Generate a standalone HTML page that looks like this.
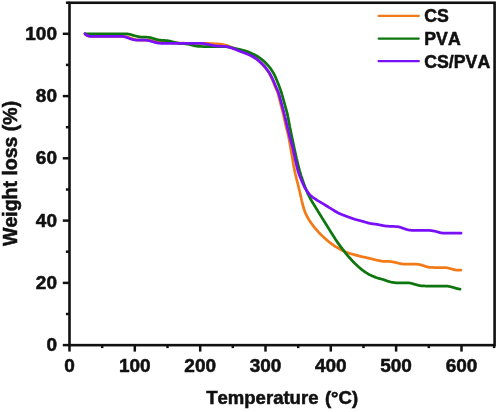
<!DOCTYPE html>
<html><head><meta charset="utf-8"><title>TGA</title>
<style>
html,body{margin:0;padding:0;background:#fff;}
svg{display:block;}
text{font-family:"Liberation Sans",sans-serif;font-weight:bold;fill:#111;stroke:#111;stroke-width:0.55px;font-kerning:none;}
</style></head><body>
<svg width="498" height="412" viewBox="0 0 498 412">
<rect width="498" height="412" fill="#fff"/>
<g fill="none" stroke-width="2.75" stroke-linecap="round" stroke-linejoin="round">
<path stroke="#F27A18" d="M85.00,33.80 L85.35,34.12 L85.71,34.44 L86.07,34.74 L86.45,35.02 L86.84,35.28 L87.25,35.51 L87.67,35.71 L88.11,35.87 L88.56,36.01 L89.02,36.12 L89.50,36.20 L89.98,36.27 L90.46,36.31 L90.96,36.34 L91.45,36.37 L91.95,36.38 L92.44,36.39 L92.94,36.39 L93.44,36.40 L93.94,36.40 L94.44,36.40 L94.94,36.40 L95.44,36.40 L95.94,36.40 L96.44,36.40 L96.94,36.40 L97.44,36.40 L97.94,36.40 L98.44,36.40 L98.94,36.40 L99.44,36.40 L99.94,36.40 L100.44,36.40 L100.94,36.40 L101.44,36.40 L101.94,36.40 L102.44,36.40 L102.94,36.40 L103.44,36.40 L103.94,36.40 L104.44,36.40 L104.94,36.40 L105.44,36.40 L105.94,36.40 L106.44,36.40 L106.94,36.40 L107.44,36.40 L107.94,36.40 L108.44,36.40 L108.94,36.40 L109.44,36.40 L109.94,36.40 L110.44,36.40 L110.94,36.40 L111.44,36.40 L111.94,36.40 L112.44,36.40 L112.94,36.40 L113.44,36.40 L113.94,36.40 L114.44,36.40 L114.94,36.40 L115.44,36.40 L115.94,36.40 L116.44,36.40 L116.94,36.40 L117.44,36.40 L117.94,36.40 L118.44,36.40 L118.94,36.40 L119.44,36.40 L119.94,36.40 L120.44,36.40 L120.94,36.40 L121.44,36.41 L121.94,36.41 L122.44,36.42 L122.94,36.43 L123.43,36.45 L123.93,36.48 L124.42,36.52 L124.91,36.57 L125.40,36.63 L125.88,36.71 L126.36,36.81 L126.84,36.93 L127.32,37.06 L127.79,37.20 L128.26,37.35 L128.73,37.51 L129.20,37.68 L129.67,37.84 L130.14,38.01 L130.61,38.17 L131.08,38.33 L131.56,38.49 L132.03,38.64 L132.51,38.79 L132.99,38.93 L133.47,39.07 L133.95,39.21 L134.43,39.33 L134.91,39.45 L135.40,39.57 L135.88,39.67 L136.37,39.76 L136.86,39.84 L137.35,39.91 L137.84,39.97 L138.33,40.01 L138.83,40.05 L139.33,40.07 L139.82,40.09 L140.32,40.11 L140.82,40.12 L141.32,40.13 L141.82,40.13 L142.32,40.14 L142.82,40.14 L143.32,40.15 L143.82,40.15 L144.32,40.16 L144.82,40.16 L145.32,40.17 L145.82,40.17 L146.32,40.18 L146.82,40.19 L147.32,40.21 L147.82,40.22 L148.31,40.25 L148.81,40.28 L149.31,40.32 L149.80,40.37 L150.29,40.43 L150.79,40.50 L151.28,40.58 L151.77,40.67 L152.26,40.76 L152.75,40.86 L153.23,40.96 L153.72,41.06 L154.21,41.16 L154.70,41.26 L155.19,41.36 L155.68,41.45 L156.17,41.54 L156.66,41.63 L157.16,41.71 L157.65,41.79 L158.14,41.86 L158.64,41.93 L159.13,42.00 L159.63,42.06 L160.13,42.13 L160.62,42.18 L161.12,42.23 L161.62,42.28 L162.11,42.33 L162.61,42.37 L163.11,42.40 L163.61,42.43 L164.11,42.46 L164.61,42.49 L165.10,42.51 L165.60,42.53 L166.10,42.56 L166.60,42.58 L167.10,42.60 L167.60,42.62 L168.10,42.63 L168.60,42.65 L169.10,42.67 L169.60,42.69 L170.10,42.71 L170.60,42.73 L171.10,42.75 L171.60,42.77 L172.10,42.79 L172.60,42.81 L173.10,42.83 L173.60,42.85 L174.10,42.87 L174.60,42.89 L175.10,42.91 L175.60,42.92 L176.10,42.94 L176.60,42.96 L177.09,42.98 L177.59,43.00 L178.09,43.02 L178.59,43.04 L179.09,43.06 L179.59,43.08 L180.09,43.10 L180.59,43.12 L181.09,43.14 L181.59,43.16 L182.09,43.18 L182.59,43.20 L183.09,43.21 L183.59,43.23 L184.09,43.24 L184.59,43.26 L185.09,43.27 L185.59,43.28 L186.09,43.28 L186.59,43.29 L187.09,43.29 L187.59,43.29 L188.09,43.30 L188.59,43.30 L189.09,43.30 L189.59,43.30 L190.09,43.30 L190.59,43.30 L191.09,43.30 L191.59,43.30 L192.09,43.30 L192.59,43.30 L193.09,43.30 L193.59,43.30 L194.09,43.30 L194.59,43.30 L195.09,43.30 L195.59,43.30 L196.09,43.30 L196.59,43.30 L197.09,43.30 L197.59,43.30 L198.09,43.30 L198.59,43.30 L199.09,43.30 L199.59,43.30 L200.09,43.30 L200.59,43.30 L201.09,43.30 L201.59,43.30 L202.09,43.30 L202.59,43.31 L203.09,43.31 L203.59,43.32 L204.09,43.32 L204.59,43.33 L205.09,43.35 L205.59,43.36 L206.09,43.38 L206.59,43.39 L207.09,43.41 L207.59,43.44 L208.08,43.46 L208.58,43.48 L209.08,43.51 L209.58,43.53 L210.08,43.55 L210.58,43.58 L211.08,43.60 L211.58,43.63 L212.08,43.65 L212.58,43.68 L213.08,43.71 L213.58,43.73 L214.08,43.76 L214.58,43.78 L215.08,43.81 L215.57,43.84 L216.07,43.86 L216.57,43.89 L217.07,43.92 L217.57,43.95 L218.07,43.98 L218.57,44.01 L219.07,44.05 L219.56,44.09 L220.06,44.13 L220.56,44.18 L221.05,44.24 L221.55,44.30 L222.04,44.38 L222.53,44.46 L223.02,44.55 L223.50,44.65 L223.99,44.76 L224.47,44.88 L224.96,45.01 L225.44,45.14 L225.91,45.28 L226.39,45.43 L226.86,45.59 L227.34,45.75 L227.81,45.91 L228.28,46.08 L228.75,46.25 L229.22,46.42 L229.69,46.59 L230.16,46.76 L230.63,46.94 L231.10,47.11 L231.56,47.28 L232.03,47.46 L232.50,47.63 L232.97,47.80 L233.44,47.98 L233.91,48.15 L234.37,48.33 L234.84,48.51 L235.31,48.69 L235.77,48.88 L236.23,49.06 L236.70,49.25 L237.16,49.45 L237.62,49.64 L238.08,49.84 L238.54,50.03 L239.00,50.23 L239.46,50.42 L239.92,50.61 L240.38,50.80 L240.85,50.99 L241.31,51.17 L241.78,51.35 L242.24,51.54 L242.71,51.72 L243.17,51.90 L243.64,52.08 L244.11,52.26 L244.57,52.44 L245.03,52.63 L245.50,52.82 L245.96,53.01 L246.42,53.20 L246.88,53.40 L247.34,53.60 L247.80,53.80 L248.25,54.00 L248.71,54.21 L249.16,54.42 L249.61,54.63 L250.06,54.85 L250.50,55.08 L250.95,55.30 L251.39,55.54 L251.82,55.78 L252.25,56.03 L252.68,56.29 L253.10,56.55 L253.52,56.82 L253.94,57.09 L254.35,57.37 L254.76,57.65 L255.17,57.94 L255.58,58.23 L255.98,58.52 L256.39,58.82 L256.78,59.12 L257.18,59.43 L257.56,59.74 L257.95,60.06 L258.33,60.38 L258.70,60.71 L259.07,61.05 L259.43,61.38 L259.80,61.73 L260.15,62.08 L260.51,62.43 L260.87,62.78 L261.22,63.13 L261.57,63.48 L261.92,63.84 L262.27,64.20 L262.62,64.56 L262.96,64.92 L263.29,65.29 L263.63,65.66 L263.95,66.04 L264.28,66.42 L264.59,66.80 L264.91,67.19 L265.21,67.58 L265.52,67.98 L265.82,68.38 L266.12,68.78 L266.42,69.18 L266.71,69.58 L267.00,69.99 L267.29,70.40 L267.58,70.80 L267.86,71.22 L268.14,71.63 L268.41,72.05 L268.68,72.47 L268.93,72.89 L269.19,73.32 L269.43,73.76 L269.67,74.20 L269.90,74.64 L270.13,75.08 L270.36,75.53 L270.58,75.97 L270.80,76.42 L271.02,76.87 L271.24,77.32 L271.45,77.77 L271.67,78.22 L271.88,78.67 L272.09,79.13 L272.29,79.58 L272.50,80.04 L272.70,80.50 L272.89,80.96 L273.09,81.42 L273.28,81.88 L273.46,82.34 L273.65,82.81 L273.84,83.27 L274.02,83.74 L274.20,84.20 L274.39,84.67 L274.57,85.13 L274.75,85.60 L274.94,86.06 L275.13,86.52 L275.32,86.99 L275.51,87.45 L275.71,87.91 L275.91,88.36 L276.11,88.82 L276.31,89.27 L276.52,89.73 L276.72,90.18 L276.92,90.64 L277.11,91.10 L277.30,91.56 L277.48,92.02 L277.65,92.48 L277.82,92.95 L277.97,93.43 L278.11,93.90 L278.25,94.38 L278.39,94.86 L278.51,95.34 L278.64,95.83 L278.76,96.31 L278.88,96.80 L279.01,97.28 L279.13,97.77 L279.25,98.25 L279.37,98.74 L279.49,99.22 L279.61,99.71 L279.73,100.19 L279.85,100.68 L279.97,101.16 L280.10,101.65 L280.22,102.13 L280.34,102.62 L280.47,103.10 L280.59,103.58 L280.72,104.07 L280.85,104.55 L280.97,105.04 L281.10,105.52 L281.22,106.00 L281.35,106.49 L281.48,106.97 L281.60,107.45 L281.73,107.94 L281.86,108.42 L281.98,108.91 L282.11,109.39 L282.24,109.87 L282.36,110.36 L282.49,110.84 L282.62,111.32 L282.74,111.81 L282.86,112.29 L282.99,112.78 L283.11,113.26 L283.23,113.75 L283.34,114.23 L283.46,114.72 L283.57,115.21 L283.68,115.69 L283.79,116.18 L283.90,116.67 L284.01,117.16 L284.12,117.65 L284.22,118.14 L284.33,118.62 L284.43,119.11 L284.54,119.60 L284.64,120.09 L284.75,120.58 L284.85,121.07 L284.96,121.56 L285.07,122.05 L285.17,122.53 L285.28,123.02 L285.38,123.51 L285.49,124.00 L285.60,124.49 L285.71,124.97 L285.82,125.46 L285.94,125.95 L286.05,126.43 L286.17,126.92 L286.29,127.41 L286.41,127.89 L286.54,128.37 L286.66,128.86 L286.79,129.34 L286.92,129.83 L287.05,130.31 L287.17,130.79 L287.30,131.28 L287.43,131.76 L287.55,132.24 L287.68,132.73 L287.80,133.21 L287.92,133.70 L288.04,134.18 L288.15,134.67 L288.26,135.16 L288.37,135.64 L288.47,136.13 L288.57,136.62 L288.67,137.11 L288.76,137.60 L288.86,138.09 L288.95,138.59 L289.04,139.08 L289.13,139.57 L289.22,140.06 L289.31,140.55 L289.40,141.05 L289.49,141.54 L289.58,142.03 L289.67,142.52 L289.76,143.01 L289.85,143.50 L289.94,144.00 L290.02,144.49 L290.11,144.98 L290.20,145.47 L290.29,145.97 L290.38,146.46 L290.46,146.95 L290.55,147.44 L290.64,147.93 L290.72,148.43 L290.81,148.92 L290.90,149.41 L290.98,149.90 L291.07,150.40 L291.15,150.89 L291.24,151.38 L291.32,151.88 L291.41,152.37 L291.49,152.86 L291.58,153.35 L291.66,153.85 L291.75,154.34 L291.83,154.83 L291.92,155.32 L292.00,155.82 L292.09,156.31 L292.17,156.80 L292.26,157.30 L292.34,157.79 L292.43,158.28 L292.51,158.77 L292.60,159.27 L292.68,159.76 L292.77,160.25 L292.85,160.74 L292.94,161.24 L293.02,161.73 L293.11,162.22 L293.19,162.72 L293.28,163.21 L293.36,163.70 L293.45,164.19 L293.53,164.69 L293.62,165.18 L293.71,165.67 L293.79,166.16 L293.88,166.66 L293.96,167.15 L294.05,167.64 L294.14,168.13 L294.23,168.63 L294.32,169.12 L294.41,169.61 L294.50,170.10 L294.60,170.59 L294.70,171.08 L294.80,171.57 L294.91,172.06 L295.02,172.54 L295.13,173.03 L295.24,173.52 L295.36,174.00 L295.48,174.49 L295.60,174.97 L295.72,175.46 L295.84,175.95 L295.96,176.43 L296.08,176.92 L296.20,177.40 L296.32,177.89 L296.44,178.37 L296.56,178.86 L296.69,179.34 L296.81,179.83 L296.93,180.31 L297.05,180.80 L297.17,181.28 L297.29,181.77 L297.42,182.25 L297.54,182.74 L297.66,183.22 L297.78,183.70 L297.91,184.19 L298.03,184.67 L298.15,185.16 L298.28,185.64 L298.40,186.13 L298.53,186.61 L298.65,187.10 L298.77,187.58 L298.89,188.07 L299.02,188.55 L299.14,189.04 L299.26,189.52 L299.37,190.01 L299.49,190.49 L299.60,190.98 L299.72,191.47 L299.83,191.95 L299.94,192.44 L300.04,192.93 L300.15,193.42 L300.26,193.91 L300.36,194.40 L300.46,194.89 L300.57,195.37 L300.67,195.86 L300.78,196.35 L300.88,196.84 L300.99,197.33 L301.10,197.82 L301.21,198.31 L301.31,198.79 L301.43,199.28 L301.54,199.77 L301.65,200.26 L301.77,200.74 L301.88,201.23 L302.00,201.71 L302.12,202.20 L302.24,202.69 L302.36,203.17 L302.48,203.66 L302.60,204.14 L302.73,204.62 L302.86,205.11 L302.99,205.59 L303.12,206.07 L303.26,206.55 L303.40,207.03 L303.54,207.51 L303.69,207.99 L303.84,208.46 L303.99,208.94 L304.15,209.41 L304.31,209.89 L304.47,210.36 L304.63,210.83 L304.79,211.30 L304.96,211.77 L305.14,212.24 L305.32,212.70 L305.51,213.17 L305.70,213.62 L305.91,214.08 L306.12,214.53 L306.34,214.98 L306.56,215.42 L306.79,215.86 L307.03,216.30 L307.27,216.74 L307.51,217.18 L307.75,217.61 L308.00,218.05 L308.24,218.48 L308.49,218.92 L308.75,219.35 L309.00,219.78 L309.26,220.20 L309.53,220.63 L309.80,221.05 L310.07,221.46 L310.35,221.88 L310.63,222.29 L310.92,222.70 L311.21,223.10 L311.50,223.51 L311.80,223.91 L312.09,224.31 L312.39,224.72 L312.69,225.12 L312.99,225.51 L313.29,225.91 L313.60,226.31 L313.91,226.70 L314.22,227.09 L314.53,227.48 L314.84,227.87 L315.16,228.25 L315.49,228.64 L315.81,229.02 L316.14,229.39 L316.47,229.77 L316.80,230.14 L317.13,230.52 L317.46,230.89 L317.80,231.26 L318.13,231.64 L318.47,232.01 L318.80,232.38 L319.14,232.74 L319.48,233.11 L319.82,233.47 L320.17,233.83 L320.52,234.19 L320.87,234.55 L321.22,234.90 L321.58,235.25 L321.94,235.59 L322.30,235.94 L322.67,236.28 L323.03,236.62 L323.40,236.96 L323.76,237.30 L324.13,237.64 L324.50,237.98 L324.87,238.31 L325.24,238.65 L325.61,238.99 L325.98,239.32 L326.35,239.65 L326.73,239.99 L327.10,240.31 L327.48,240.64 L327.87,240.96 L328.25,241.28 L328.64,241.59 L329.03,241.91 L329.42,242.22 L329.81,242.52 L330.21,242.83 L330.61,243.13 L331.01,243.43 L331.40,243.73 L331.80,244.03 L332.20,244.33 L332.61,244.63 L333.01,244.92 L333.42,245.21 L333.83,245.50 L334.24,245.78 L334.65,246.05 L335.07,246.32 L335.50,246.58 L335.93,246.83 L336.36,247.07 L336.80,247.31 L337.24,247.55 L337.68,247.78 L338.12,248.02 L338.56,248.25 L339.00,248.48 L339.44,248.72 L339.87,248.96 L340.31,249.21 L340.74,249.45 L341.17,249.70 L341.61,249.95 L342.04,250.19 L342.48,250.43 L342.92,250.67 L343.36,250.90 L343.80,251.13 L344.25,251.35 L344.70,251.56 L345.15,251.77 L345.61,251.97 L346.07,252.17 L346.53,252.35 L346.99,252.53 L347.46,252.71 L347.93,252.87 L348.40,253.03 L348.88,253.18 L349.35,253.33 L349.83,253.47 L350.31,253.61 L350.79,253.75 L351.27,253.88 L351.76,254.02 L352.24,254.15 L352.72,254.28 L353.20,254.41 L353.68,254.54 L354.17,254.67 L354.65,254.80 L355.13,254.93 L355.62,255.06 L356.10,255.19 L356.58,255.32 L357.07,255.45 L357.55,255.58 L358.03,255.70 L358.52,255.83 L359.00,255.96 L359.48,256.08 L359.97,256.20 L360.45,256.32 L360.94,256.44 L361.42,256.56 L361.91,256.68 L362.40,256.79 L362.89,256.90 L363.37,257.01 L363.86,257.11 L364.35,257.22 L364.84,257.32 L365.33,257.42 L365.82,257.53 L366.31,257.63 L366.80,257.73 L367.29,257.84 L367.77,257.95 L368.26,258.06 L368.75,258.17 L369.24,258.28 L369.72,258.39 L370.21,258.51 L370.69,258.63 L371.18,258.75 L371.66,258.87 L372.15,259.00 L372.63,259.12 L373.12,259.24 L373.60,259.37 L374.09,259.49 L374.57,259.61 L375.06,259.73 L375.54,259.85 L376.03,259.97 L376.51,260.08 L377.00,260.19 L377.49,260.30 L377.98,260.41 L378.47,260.51 L378.96,260.62 L379.44,260.72 L379.93,260.81 L380.42,260.91 L380.91,261.00 L381.41,261.09 L381.90,261.17 L382.39,261.24 L382.88,261.30 L383.38,261.35 L383.87,261.39 L384.36,261.42 L384.86,261.44 L385.36,261.45 L385.85,261.45 L386.35,261.45 L386.85,261.45 L387.35,261.44 L387.85,261.44 L388.34,261.45 L388.84,261.46 L389.34,261.49 L389.83,261.52 L390.33,261.56 L390.82,261.62 L391.31,261.68 L391.81,261.75 L392.30,261.82 L392.79,261.91 L393.28,262.00 L393.77,262.09 L394.26,262.19 L394.75,262.30 L395.24,262.41 L395.72,262.52 L396.21,262.64 L396.69,262.76 L397.17,262.89 L397.66,263.02 L398.14,263.15 L398.62,263.27 L399.10,263.39 L399.59,263.51 L400.07,263.61 L400.56,263.71 L401.05,263.80 L401.54,263.87 L402.03,263.93 L402.52,263.98 L403.02,264.02 L403.51,264.04 L404.01,264.06 L404.51,264.08 L405.01,264.09 L405.50,264.09 L406.00,264.10 L406.50,264.10 L407.00,264.10 L407.50,264.10 L408.00,264.10 L408.50,264.10 L409.00,264.10 L409.50,264.10 L410.00,264.10 L410.50,264.10 L411.00,264.10 L411.50,264.10 L412.00,264.10 L412.50,264.10 L413.00,264.10 L413.50,264.11 L414.00,264.11 L414.50,264.12 L415.00,264.13 L415.50,264.15 L416.00,264.17 L416.49,264.20 L416.99,264.25 L417.48,264.30 L417.97,264.36 L418.47,264.43 L418.96,264.51 L419.44,264.61 L419.93,264.71 L420.42,264.82 L420.90,264.93 L421.39,265.06 L421.87,265.19 L422.35,265.32 L422.82,265.47 L423.30,265.62 L423.78,265.77 L424.25,265.92 L424.72,266.08 L425.20,266.24 L425.67,266.39 L426.14,266.54 L426.62,266.69 L427.10,266.83 L427.57,266.95 L428.05,267.07 L428.54,267.16 L429.02,267.25 L429.51,267.32 L430.00,267.37 L430.49,267.41 L430.99,267.44 L431.48,267.46 L431.98,267.48 L432.48,267.49 L432.98,267.49 L433.48,267.50 L433.98,267.50 L434.48,267.50 L434.98,267.50 L435.48,267.50 L435.98,267.50 L436.48,267.50 L436.98,267.50 L437.48,267.50 L437.98,267.50 L438.48,267.50 L438.98,267.50 L439.48,267.50 L439.98,267.50 L440.48,267.50 L440.98,267.50 L441.48,267.50 L441.98,267.50 L442.48,267.51 L442.98,267.51 L443.48,267.52 L443.97,267.54 L444.47,267.56 L444.97,267.59 L445.46,267.63 L445.95,267.68 L446.44,267.74 L446.93,267.82 L447.42,267.90 L447.91,268.00 L448.39,268.11 L448.88,268.23 L449.36,268.35 L449.84,268.48 L450.32,268.61 L450.80,268.75 L451.28,268.88 L451.76,269.02 L452.24,269.16 L452.72,269.29 L453.21,269.42 L453.69,269.55 L454.17,269.67 L454.65,269.78 L455.14,269.88 L455.62,269.96 L456.11,270.03 L456.59,270.09 L457.08,270.13 L457.57,270.15 L458.06,270.16 L458.55,270.15 L459.03,270.14 L459.52,270.11 L460.00,270.09 L460.48,270.05 L460.96,270.02"/>
<path stroke="#0E760E" d="M85.00,33.80 L85.50,33.80 L86.00,33.80 L86.50,33.80 L87.00,33.80 L87.50,33.80 L88.00,33.80 L88.50,33.80 L89.00,33.80 L89.50,33.80 L90.00,33.80 L90.50,33.80 L91.00,33.80 L91.50,33.80 L92.00,33.80 L92.50,33.80 L93.00,33.80 L93.50,33.80 L94.00,33.80 L94.50,33.80 L95.00,33.80 L95.50,33.80 L96.00,33.80 L96.50,33.80 L97.00,33.80 L97.50,33.80 L98.00,33.80 L98.50,33.80 L99.00,33.80 L99.50,33.80 L100.00,33.80 L100.50,33.80 L101.00,33.80 L101.50,33.80 L102.00,33.80 L102.50,33.80 L103.00,33.80 L103.50,33.80 L104.00,33.80 L104.50,33.80 L105.00,33.80 L105.50,33.80 L106.00,33.80 L106.50,33.80 L107.00,33.80 L107.50,33.80 L108.00,33.80 L108.50,33.80 L109.00,33.80 L109.50,33.80 L110.00,33.80 L110.50,33.80 L111.00,33.80 L111.50,33.80 L112.00,33.80 L112.50,33.80 L113.00,33.80 L113.50,33.80 L114.00,33.80 L114.50,33.80 L115.00,33.80 L115.50,33.80 L116.00,33.80 L116.50,33.80 L117.00,33.80 L117.50,33.80 L118.00,33.80 L118.50,33.80 L119.00,33.80 L119.50,33.80 L120.00,33.80 L120.50,33.80 L121.00,33.80 L121.50,33.80 L122.00,33.80 L122.50,33.80 L123.00,33.80 L123.50,33.80 L124.00,33.81 L124.50,33.81 L125.00,33.82 L125.49,33.83 L125.99,33.85 L126.49,33.88 L126.98,33.92 L127.47,33.97 L127.96,34.03 L128.45,34.11 L128.94,34.20 L129.42,34.30 L129.91,34.41 L130.39,34.53 L130.87,34.66 L131.35,34.79 L131.83,34.93 L132.31,35.07 L132.79,35.21 L133.27,35.35 L133.75,35.49 L134.23,35.62 L134.71,35.75 L135.19,35.89 L135.68,36.02 L136.16,36.14 L136.64,36.27 L137.13,36.38 L137.61,36.50 L138.10,36.61 L138.59,36.71 L139.07,36.80 L139.56,36.89 L140.05,36.96 L140.55,37.02 L141.04,37.07 L141.54,37.11 L142.03,37.14 L142.53,37.16 L143.03,37.17 L143.53,37.19 L144.02,37.19 L144.52,37.20 L145.02,37.20 L145.52,37.21 L146.02,37.22 L146.52,37.23 L147.02,37.25 L147.51,37.28 L148.01,37.32 L148.50,37.37 L148.99,37.43 L149.48,37.50 L149.96,37.59 L150.45,37.69 L150.93,37.81 L151.41,37.93 L151.89,38.06 L152.37,38.20 L152.85,38.34 L153.33,38.48 L153.80,38.63 L154.28,38.77 L154.76,38.92 L155.24,39.06 L155.72,39.20 L156.20,39.34 L156.68,39.48 L157.16,39.61 L157.64,39.73 L158.12,39.84 L158.61,39.94 L159.10,40.04 L159.59,40.12 L160.08,40.19 L160.57,40.24 L161.06,40.29 L161.56,40.33 L162.06,40.37 L162.55,40.40 L163.05,40.42 L163.55,40.44 L164.05,40.47 L164.55,40.49 L165.05,40.52 L165.55,40.55 L166.04,40.58 L166.54,40.62 L167.03,40.67 L167.53,40.73 L168.02,40.80 L168.51,40.88 L169.00,40.97 L169.49,41.07 L169.97,41.17 L170.46,41.29 L170.94,41.40 L171.43,41.52 L171.91,41.65 L172.40,41.77 L172.88,41.90 L173.36,42.02 L173.85,42.14 L174.33,42.27 L174.82,42.39 L175.30,42.51 L175.79,42.62 L176.28,42.73 L176.76,42.84 L177.25,42.94 L177.74,43.03 L178.23,43.12 L178.72,43.20 L179.22,43.26 L179.71,43.33 L180.21,43.38 L180.70,43.43 L181.20,43.48 L181.70,43.52 L182.20,43.56 L182.69,43.60 L183.19,43.64 L183.69,43.68 L184.19,43.71 L184.69,43.75 L185.18,43.80 L185.68,43.84 L186.18,43.89 L186.67,43.95 L187.17,44.01 L187.66,44.09 L188.15,44.17 L188.64,44.26 L189.12,44.36 L189.61,44.47 L190.09,44.58 L190.58,44.70 L191.06,44.83 L191.54,44.95 L192.03,45.08 L192.51,45.21 L192.99,45.33 L193.48,45.45 L193.96,45.57 L194.45,45.68 L194.94,45.79 L195.42,45.89 L195.91,45.98 L196.40,46.07 L196.90,46.15 L197.39,46.23 L197.88,46.29 L198.37,46.34 L198.87,46.38 L199.37,46.42 L199.86,46.44 L200.36,46.46 L200.86,46.48 L201.36,46.49 L201.86,46.49 L202.36,46.50 L202.86,46.50 L203.36,46.50 L203.86,46.50 L204.36,46.50 L204.86,46.50 L205.36,46.50 L205.86,46.50 L206.36,46.50 L206.86,46.50 L207.36,46.50 L207.86,46.50 L208.36,46.50 L208.86,46.50 L209.36,46.50 L209.86,46.50 L210.36,46.50 L210.86,46.50 L211.36,46.50 L211.86,46.50 L212.36,46.50 L212.86,46.50 L213.36,46.50 L213.86,46.50 L214.36,46.50 L214.86,46.50 L215.36,46.50 L215.86,46.50 L216.36,46.50 L216.86,46.50 L217.36,46.50 L217.86,46.50 L218.36,46.50 L218.86,46.50 L219.36,46.50 L219.86,46.50 L220.36,46.50 L220.86,46.50 L221.36,46.50 L221.86,46.51 L222.36,46.51 L222.86,46.52 L223.36,46.53 L223.85,46.54 L224.35,46.56 L224.85,46.59 L225.34,46.63 L225.84,46.67 L226.33,46.73 L226.83,46.79 L227.32,46.86 L227.81,46.95 L228.30,47.03 L228.79,47.13 L229.28,47.22 L229.77,47.32 L230.26,47.43 L230.75,47.53 L231.24,47.63 L231.73,47.74 L232.21,47.84 L232.70,47.95 L233.19,48.05 L233.68,48.16 L234.17,48.26 L234.66,48.36 L235.15,48.47 L235.64,48.57 L236.13,48.68 L236.62,48.78 L237.10,48.89 L237.59,48.99 L238.08,49.10 L238.57,49.21 L239.06,49.32 L239.55,49.43 L240.03,49.54 L240.52,49.65 L241.01,49.76 L241.49,49.88 L241.98,50.00 L242.46,50.12 L242.95,50.24 L243.43,50.36 L243.91,50.49 L244.40,50.62 L244.88,50.76 L245.35,50.90 L245.83,51.05 L246.30,51.21 L246.77,51.37 L247.24,51.54 L247.71,51.72 L248.18,51.90 L248.64,52.08 L249.10,52.27 L249.56,52.46 L250.02,52.66 L250.48,52.85 L250.94,53.05 L251.39,53.26 L251.85,53.47 L252.30,53.68 L252.75,53.90 L253.20,54.12 L253.65,54.34 L254.09,54.56 L254.54,54.79 L254.98,55.03 L255.42,55.26 L255.86,55.50 L256.30,55.74 L256.73,55.98 L257.16,56.24 L257.59,56.49 L258.01,56.76 L258.43,57.02 L258.85,57.30 L259.26,57.58 L259.66,57.87 L260.07,58.16 L260.47,58.46 L260.87,58.76 L261.27,59.06 L261.66,59.36 L262.06,59.67 L262.45,59.98 L262.83,60.30 L263.21,60.62 L263.59,60.94 L263.96,61.28 L264.33,61.61 L264.69,61.95 L265.05,62.30 L265.41,62.65 L265.76,63.01 L266.10,63.37 L266.45,63.73 L266.79,64.09 L267.13,64.46 L267.47,64.82 L267.81,65.19 L268.14,65.56 L268.47,65.94 L268.79,66.32 L269.11,66.70 L269.43,67.09 L269.73,67.48 L270.04,67.87 L270.33,68.28 L270.62,68.68 L270.90,69.09 L271.18,69.51 L271.46,69.92 L271.73,70.34 L272.00,70.76 L272.27,71.18 L272.54,71.60 L272.80,72.03 L273.06,72.45 L273.32,72.88 L273.57,73.31 L273.82,73.74 L274.06,74.18 L274.29,74.62 L274.52,75.06 L274.74,75.51 L274.95,75.96 L275.16,76.42 L275.36,76.87 L275.56,77.33 L275.76,77.79 L275.96,78.25 L276.15,78.71 L276.34,79.17 L276.54,79.63 L276.73,80.09 L276.92,80.55 L277.11,81.02 L277.30,81.48 L277.49,81.94 L277.67,82.41 L277.86,82.87 L278.05,83.33 L278.23,83.80 L278.41,84.26 L278.59,84.73 L278.77,85.20 L278.95,85.66 L279.13,86.13 L279.31,86.60 L279.49,87.06 L279.67,87.53 L279.84,88.00 L280.02,88.47 L280.19,88.94 L280.36,89.41 L280.53,89.88 L280.69,90.35 L280.85,90.82 L281.01,91.30 L281.16,91.77 L281.31,92.25 L281.46,92.73 L281.60,93.20 L281.74,93.68 L281.88,94.16 L282.01,94.65 L282.15,95.13 L282.29,95.61 L282.42,96.09 L282.56,96.57 L282.69,97.05 L282.82,97.53 L282.96,98.02 L283.09,98.50 L283.23,98.98 L283.36,99.46 L283.50,99.94 L283.63,100.42 L283.77,100.91 L283.90,101.39 L284.03,101.87 L284.17,102.35 L284.30,102.83 L284.44,103.31 L284.57,103.79 L284.71,104.28 L284.84,104.76 L284.97,105.24 L285.11,105.72 L285.24,106.20 L285.38,106.68 L285.51,107.17 L285.65,107.65 L285.78,108.13 L285.91,108.61 L286.05,109.09 L286.18,109.57 L286.32,110.06 L286.45,110.54 L286.58,111.02 L286.71,111.50 L286.84,111.99 L286.97,112.47 L287.09,112.95 L287.21,113.44 L287.33,113.92 L287.44,114.41 L287.55,114.90 L287.66,115.39 L287.76,115.87 L287.86,116.36 L287.95,116.86 L288.05,117.35 L288.14,117.84 L288.23,118.33 L288.32,118.82 L288.41,119.31 L288.50,119.80 L288.59,120.30 L288.68,120.79 L288.77,121.28 L288.86,121.77 L288.95,122.26 L289.04,122.76 L289.13,123.25 L289.22,123.74 L289.31,124.23 L289.40,124.72 L289.50,125.21 L289.59,125.70 L289.68,126.20 L289.78,126.69 L289.88,127.18 L289.98,127.67 L290.07,128.16 L290.17,128.65 L290.28,129.14 L290.38,129.63 L290.48,130.12 L290.58,130.60 L290.68,131.09 L290.79,131.58 L290.89,132.07 L290.99,132.56 L291.09,133.05 L291.19,133.54 L291.30,134.03 L291.40,134.52 L291.50,135.01 L291.60,135.50 L291.71,135.99 L291.81,136.48 L291.91,136.97 L292.01,137.46 L292.11,137.95 L292.22,138.44 L292.32,138.93 L292.42,139.41 L292.52,139.90 L292.62,140.39 L292.73,140.88 L292.83,141.37 L292.93,141.86 L293.03,142.35 L293.13,142.84 L293.24,143.33 L293.34,143.82 L293.44,144.31 L293.54,144.80 L293.65,145.29 L293.75,145.78 L293.85,146.27 L293.96,146.76 L294.06,147.24 L294.17,147.73 L294.27,148.22 L294.38,148.71 L294.48,149.20 L294.59,149.69 L294.70,150.18 L294.80,150.66 L294.91,151.15 L295.02,151.64 L295.13,152.13 L295.23,152.62 L295.34,153.11 L295.45,153.59 L295.56,154.08 L295.66,154.57 L295.77,155.06 L295.88,155.55 L295.99,156.04 L296.09,156.52 L296.20,157.01 L296.31,157.50 L296.42,157.99 L296.53,158.48 L296.65,158.96 L296.76,159.45 L296.87,159.94 L296.99,160.42 L297.11,160.91 L297.22,161.39 L297.34,161.88 L297.46,162.37 L297.58,162.85 L297.70,163.34 L297.82,163.82 L297.94,164.31 L298.06,164.79 L298.18,165.28 L298.30,165.76 L298.42,166.25 L298.54,166.73 L298.66,167.22 L298.79,167.70 L298.91,168.19 L299.03,168.67 L299.16,169.16 L299.28,169.64 L299.41,170.12 L299.54,170.61 L299.68,171.09 L299.82,171.57 L299.96,172.05 L300.10,172.52 L300.25,173.00 L300.40,173.48 L300.55,173.95 L300.71,174.43 L300.86,174.91 L301.02,175.38 L301.17,175.86 L301.33,176.33 L301.49,176.81 L301.64,177.28 L301.80,177.75 L301.96,178.23 L302.11,178.70 L302.27,179.18 L302.43,179.65 L302.59,180.13 L302.75,180.60 L302.91,181.07 L303.07,181.55 L303.23,182.02 L303.40,182.49 L303.57,182.96 L303.74,183.43 L303.91,183.90 L304.09,184.37 L304.27,184.83 L304.45,185.30 L304.63,185.77 L304.81,186.23 L304.99,186.70 L305.18,187.16 L305.36,187.63 L305.55,188.09 L305.73,188.56 L305.92,189.02 L306.10,189.48 L306.29,189.95 L306.48,190.41 L306.66,190.88 L306.85,191.34 L307.04,191.80 L307.24,192.26 L307.43,192.72 L307.63,193.18 L307.83,193.64 L308.04,194.09 L308.25,194.54 L308.47,194.99 L308.69,195.44 L308.91,195.89 L309.14,196.33 L309.37,196.78 L309.60,197.22 L309.83,197.66 L310.07,198.10 L310.30,198.54 L310.54,198.98 L310.79,199.42 L311.03,199.85 L311.28,200.29 L311.53,200.72 L311.78,201.15 L312.04,201.58 L312.29,202.01 L312.55,202.44 L312.81,202.86 L313.07,203.29 L313.34,203.72 L313.60,204.14 L313.86,204.57 L314.12,204.99 L314.39,205.42 L314.65,205.84 L314.91,206.27 L315.17,206.69 L315.44,207.12 L315.70,207.54 L315.96,207.97 L316.23,208.40 L316.49,208.82 L316.75,209.24 L317.02,209.67 L317.28,210.09 L317.55,210.52 L317.81,210.94 L318.07,211.37 L318.34,211.79 L318.60,212.22 L318.86,212.64 L319.13,213.07 L319.39,213.49 L319.65,213.92 L319.92,214.34 L320.18,214.77 L320.44,215.19 L320.71,215.62 L320.97,216.04 L321.24,216.47 L321.50,216.89 L321.76,217.32 L322.03,217.74 L322.29,218.17 L322.56,218.59 L322.82,219.02 L323.08,219.44 L323.35,219.87 L323.61,220.29 L323.87,220.72 L324.14,221.14 L324.40,221.57 L324.66,221.99 L324.93,222.42 L325.19,222.84 L325.45,223.27 L325.72,223.69 L325.98,224.12 L326.24,224.54 L326.51,224.97 L326.77,225.39 L327.03,225.82 L327.30,226.24 L327.56,226.67 L327.82,227.09 L328.08,227.52 L328.35,227.94 L328.61,228.37 L328.87,228.79 L329.14,229.22 L329.40,229.64 L329.66,230.07 L329.93,230.49 L330.19,230.92 L330.46,231.34 L330.72,231.76 L330.99,232.19 L331.25,232.61 L331.52,233.04 L331.78,233.46 L332.05,233.88 L332.32,234.31 L332.58,234.73 L332.85,235.15 L333.12,235.58 L333.38,236.00 L333.65,236.42 L333.91,236.85 L334.18,237.27 L334.45,237.69 L334.72,238.11 L334.98,238.53 L335.25,238.96 L335.53,239.38 L335.80,239.79 L336.07,240.21 L336.35,240.63 L336.63,241.04 L336.91,241.45 L337.20,241.87 L337.48,242.28 L337.77,242.68 L338.06,243.09 L338.35,243.50 L338.64,243.90 L338.94,244.31 L339.23,244.71 L339.53,245.11 L339.83,245.51 L340.13,245.91 L340.43,246.31 L340.73,246.71 L341.03,247.11 L341.34,247.51 L341.64,247.90 L341.95,248.30 L342.25,248.69 L342.56,249.09 L342.86,249.49 L343.17,249.88 L343.47,250.28 L343.78,250.68 L344.08,251.07 L344.38,251.47 L344.69,251.87 L344.99,252.27 L345.30,252.66 L345.60,253.06 L345.91,253.45 L346.22,253.84 L346.53,254.23 L346.84,254.62 L347.16,255.01 L347.48,255.39 L347.80,255.77 L348.13,256.15 L348.46,256.53 L348.79,256.90 L349.12,257.28 L349.45,257.65 L349.79,258.02 L350.12,258.39 L350.46,258.76 L350.80,259.13 L351.13,259.50 L351.47,259.87 L351.81,260.24 L352.15,260.61 L352.49,260.97 L352.83,261.34 L353.17,261.70 L353.51,262.07 L353.86,262.43 L354.21,262.78 L354.56,263.14 L354.91,263.49 L355.27,263.84 L355.63,264.18 L356.00,264.53 L356.36,264.87 L356.73,265.21 L357.10,265.55 L357.47,265.88 L357.84,266.22 L358.21,266.55 L358.58,266.89 L358.95,267.22 L359.32,267.55 L359.70,267.88 L360.08,268.21 L360.46,268.54 L360.84,268.86 L361.22,269.17 L361.61,269.48 L362.01,269.79 L362.40,270.09 L362.81,270.39 L363.21,270.68 L363.62,270.96 L364.03,271.24 L364.45,271.52 L364.86,271.80 L365.28,272.08 L365.69,272.35 L366.11,272.63 L366.53,272.90 L366.96,273.16 L367.38,273.43 L367.80,273.69 L368.23,273.94 L368.67,274.19 L369.10,274.43 L369.54,274.67 L369.98,274.90 L370.43,275.12 L370.88,275.34 L371.33,275.55 L371.78,275.76 L372.24,275.96 L372.69,276.16 L373.15,276.36 L373.61,276.56 L374.07,276.75 L374.53,276.94 L375.00,277.13 L375.46,277.31 L375.93,277.48 L376.40,277.64 L376.87,277.80 L377.35,277.95 L377.83,278.09 L378.31,278.23 L378.79,278.36 L379.27,278.49 L379.75,278.62 L380.23,278.75 L380.72,278.87 L381.20,279.00 L381.68,279.13 L382.16,279.26 L382.64,279.40 L383.12,279.54 L383.60,279.69 L384.07,279.85 L384.55,280.01 L385.02,280.17 L385.49,280.34 L385.96,280.51 L386.42,280.68 L386.89,280.85 L387.36,281.02 L387.83,281.19 L388.30,281.34 L388.78,281.50 L389.25,281.64 L389.73,281.78 L390.21,281.90 L390.70,282.02 L391.18,282.13 L391.67,282.23 L392.16,282.32 L392.65,282.41 L393.14,282.48 L393.64,282.56 L394.13,282.62 L394.62,282.68 L395.12,282.72 L395.62,282.76 L396.11,282.79 L396.61,282.81 L397.11,282.83 L397.61,282.84 L398.11,282.84 L398.61,282.84 L399.11,282.84 L399.61,282.84 L400.11,282.83 L400.61,282.82 L401.11,282.82 L401.61,282.81 L402.11,282.80 L402.61,282.80 L403.11,282.79 L403.61,282.78 L404.10,282.78 L404.60,282.77 L405.10,282.77 L405.60,282.77 L406.10,282.77 L406.60,282.77 L407.10,282.78 L407.59,282.80 L408.09,282.83 L408.58,282.87 L409.07,282.92 L409.56,282.99 L410.05,283.07 L410.53,283.16 L411.02,283.27 L411.50,283.39 L411.98,283.51 L412.46,283.64 L412.94,283.78 L413.42,283.92 L413.90,284.06 L414.38,284.20 L414.86,284.34 L415.34,284.48 L415.82,284.62 L416.30,284.75 L416.78,284.89 L417.26,285.02 L417.75,285.14 L418.23,285.27 L418.71,285.38 L419.20,285.49 L419.68,285.59 L420.17,285.68 L420.66,285.75 L421.15,285.82 L421.65,285.87 L422.14,285.91 L422.64,285.94 L423.13,285.96 L423.63,285.97 L424.13,285.98 L424.63,285.99 L425.13,286.00 L425.63,286.00 L426.13,286.00 L426.63,286.00 L427.13,286.00 L427.63,286.00 L428.13,286.00 L428.63,286.00 L429.13,286.00 L429.63,286.00 L430.13,286.00 L430.63,286.00 L431.13,286.00 L431.63,286.00 L432.13,286.00 L432.63,286.00 L433.13,286.00 L433.63,286.00 L434.13,286.00 L434.63,286.00 L435.13,286.00 L435.63,286.00 L436.13,286.00 L436.63,286.00 L437.13,286.00 L437.63,286.00 L438.13,286.00 L438.63,286.00 L439.13,286.00 L439.63,286.00 L440.13,286.00 L440.63,286.00 L441.13,286.00 L441.63,286.00 L442.13,286.00 L442.63,286.00 L443.13,286.00 L443.63,286.01 L444.13,286.01 L444.63,286.02 L445.12,286.03 L445.62,286.05 L446.12,286.07 L446.61,286.10 L447.11,286.14 L447.60,286.20 L448.09,286.26 L448.58,286.34 L449.07,286.42 L449.56,286.52 L450.05,286.62 L450.53,286.74 L451.02,286.86 L451.50,286.98 L451.98,287.11 L452.46,287.24 L452.94,287.38 L453.42,287.52 L453.90,287.66 L454.38,287.80 L454.86,287.94 L455.34,288.08 L455.82,288.22 L456.29,288.35 L456.77,288.48 L457.25,288.60 L457.72,288.71 L458.19,288.82 L458.66,288.91 L459.13,289.00 L459.60,289.08 L460.07,289.16"/>
<path stroke="#7A10F8" d="M85.00,33.80 L85.35,34.12 L85.71,34.44 L86.07,34.74 L86.45,35.02 L86.84,35.28 L87.25,35.51 L87.67,35.71 L88.11,35.87 L88.56,36.01 L89.02,36.12 L89.50,36.20 L89.98,36.27 L90.46,36.31 L90.96,36.34 L91.45,36.37 L91.95,36.38 L92.44,36.39 L92.94,36.39 L93.44,36.40 L93.94,36.40 L94.44,36.40 L94.94,36.40 L95.44,36.40 L95.94,36.40 L96.44,36.40 L96.94,36.40 L97.44,36.40 L97.94,36.40 L98.44,36.40 L98.94,36.40 L99.44,36.40 L99.94,36.40 L100.44,36.40 L100.94,36.40 L101.44,36.40 L101.94,36.40 L102.44,36.40 L102.94,36.40 L103.44,36.40 L103.94,36.40 L104.44,36.40 L104.94,36.40 L105.44,36.40 L105.94,36.40 L106.44,36.40 L106.94,36.40 L107.44,36.40 L107.94,36.40 L108.44,36.40 L108.94,36.40 L109.44,36.40 L109.94,36.40 L110.44,36.40 L110.94,36.40 L111.44,36.40 L111.94,36.40 L112.44,36.40 L112.94,36.40 L113.44,36.40 L113.94,36.40 L114.44,36.40 L114.94,36.40 L115.44,36.40 L115.94,36.40 L116.44,36.40 L116.94,36.40 L117.44,36.40 L117.94,36.40 L118.44,36.40 L118.94,36.40 L119.44,36.40 L119.94,36.41 L120.44,36.41 L120.94,36.42 L121.44,36.43 L121.93,36.45 L122.43,36.48 L122.92,36.52 L123.40,36.57 L123.89,36.64 L124.37,36.73 L124.85,36.84 L125.32,36.96 L125.79,37.10 L126.26,37.26 L126.72,37.42 L127.19,37.60 L127.65,37.77 L128.11,37.96 L128.58,38.14 L129.04,38.32 L129.51,38.49 L129.98,38.66 L130.45,38.83 L130.92,38.99 L131.39,39.14 L131.87,39.28 L132.35,39.42 L132.83,39.54 L133.31,39.65 L133.79,39.75 L134.28,39.84 L134.77,39.91 L135.26,39.97 L135.75,40.02 L136.25,40.05 L136.74,40.08 L137.24,40.10 L137.74,40.11 L138.24,40.12 L138.74,40.13 L139.24,40.13 L139.74,40.14 L140.24,40.14 L140.74,40.15 L141.24,40.15 L141.74,40.15 L142.24,40.16 L142.74,40.16 L143.24,40.17 L143.74,40.18 L144.24,40.18 L144.73,40.20 L145.23,40.21 L145.73,40.24 L146.23,40.27 L146.72,40.31 L147.21,40.36 L147.70,40.42 L148.19,40.50 L148.68,40.59 L149.16,40.69 L149.64,40.81 L150.12,40.93 L150.60,41.06 L151.08,41.20 L151.56,41.34 L152.04,41.48 L152.52,41.63 L153.00,41.77 L153.48,41.91 L153.96,42.05 L154.44,42.19 L154.92,42.32 L155.40,42.45 L155.88,42.57 L156.36,42.69 L156.85,42.80 L157.34,42.90 L157.82,42.98 L158.31,43.06 L158.80,43.12 L159.30,43.17 L159.79,43.21 L160.29,43.24 L160.79,43.26 L161.28,43.28 L161.78,43.29 L162.28,43.29 L162.78,43.30 L163.28,43.30 L163.78,43.30 L164.28,43.30 L164.78,43.30 L165.28,43.30 L165.78,43.30 L166.28,43.30 L166.78,43.30 L167.28,43.30 L167.78,43.30 L168.28,43.30 L168.78,43.30 L169.28,43.30 L169.78,43.30 L170.28,43.30 L170.78,43.30 L171.28,43.30 L171.78,43.30 L172.28,43.30 L172.78,43.30 L173.28,43.30 L173.78,43.30 L174.28,43.30 L174.78,43.30 L175.28,43.30 L175.78,43.30 L176.28,43.30 L176.78,43.30 L177.28,43.30 L177.78,43.30 L178.28,43.30 L178.78,43.30 L179.28,43.30 L179.78,43.30 L180.28,43.30 L180.78,43.30 L181.28,43.30 L181.78,43.30 L182.28,43.30 L182.78,43.30 L183.28,43.30 L183.78,43.30 L184.28,43.30 L184.78,43.30 L185.28,43.30 L185.78,43.30 L186.28,43.30 L186.78,43.30 L187.28,43.30 L187.78,43.30 L188.28,43.30 L188.78,43.30 L189.28,43.30 L189.78,43.30 L190.28,43.30 L190.78,43.30 L191.28,43.30 L191.78,43.30 L192.28,43.30 L192.78,43.30 L193.28,43.30 L193.78,43.30 L194.28,43.30 L194.78,43.30 L195.28,43.30 L195.78,43.30 L196.28,43.30 L196.78,43.30 L197.28,43.30 L197.78,43.30 L198.28,43.31 L198.78,43.31 L199.28,43.32 L199.78,43.33 L200.28,43.34 L200.77,43.36 L201.27,43.39 L201.77,43.42 L202.26,43.47 L202.76,43.52 L203.25,43.58 L203.75,43.64 L204.24,43.72 L204.73,43.80 L205.22,43.89 L205.71,43.97 L206.21,44.07 L206.70,44.16 L207.19,44.26 L207.68,44.35 L208.17,44.45 L208.66,44.55 L209.15,44.65 L209.64,44.75 L210.13,44.85 L210.62,44.96 L211.11,45.06 L211.59,45.16 L212.08,45.26 L212.57,45.37 L213.06,45.47 L213.55,45.56 L214.04,45.66 L214.53,45.75 L215.02,45.83 L215.52,45.91 L216.01,45.97 L216.50,46.03 L217.00,46.08 L217.49,46.12 L217.99,46.15 L218.49,46.18 L218.99,46.20 L219.49,46.22 L219.98,46.23 L220.48,46.24 L220.98,46.24 L221.48,46.25 L221.98,46.26 L222.48,46.27 L222.98,46.28 L223.48,46.30 L223.98,46.32 L224.47,46.35 L224.97,46.39 L225.46,46.44 L225.95,46.51 L226.44,46.58 L226.93,46.67 L227.41,46.77 L227.89,46.89 L228.37,47.01 L228.85,47.14 L229.33,47.28 L229.81,47.42 L230.29,47.57 L230.76,47.72 L231.24,47.87 L231.71,48.03 L232.18,48.19 L232.66,48.36 L233.13,48.53 L233.59,48.70 L234.06,48.88 L234.53,49.06 L234.99,49.24 L235.46,49.43 L235.92,49.62 L236.38,49.80 L236.85,49.99 L237.31,50.18 L237.77,50.37 L238.23,50.56 L238.70,50.74 L239.16,50.93 L239.63,51.11 L240.09,51.29 L240.56,51.47 L241.03,51.65 L241.50,51.83 L241.96,52.00 L242.43,52.17 L242.90,52.35 L243.37,52.52 L243.84,52.69 L244.31,52.87 L244.78,53.05 L245.24,53.22 L245.71,53.40 L246.17,53.59 L246.64,53.77 L247.10,53.96 L247.56,54.16 L248.02,54.35 L248.48,54.55 L248.94,54.75 L249.39,54.95 L249.85,55.16 L250.30,55.37 L250.75,55.58 L251.20,55.80 L251.64,56.03 L252.08,56.27 L252.51,56.51 L252.94,56.76 L253.37,57.01 L253.80,57.28 L254.22,57.54 L254.64,57.81 L255.06,58.09 L255.47,58.36 L255.88,58.64 L256.29,58.93 L256.70,59.22 L257.11,59.51 L257.51,59.80 L257.90,60.11 L258.29,60.42 L258.68,60.73 L259.06,61.05 L259.43,61.38 L259.80,61.71 L260.17,62.05 L260.54,62.39 L260.90,62.73 L261.26,63.08 L261.62,63.43 L261.98,63.78 L262.34,64.13 L262.69,64.48 L263.04,64.83 L263.39,65.19 L263.73,65.55 L264.07,65.92 L264.40,66.29 L264.73,66.67 L265.05,67.05 L265.37,67.43 L265.68,67.82 L265.99,68.21 L266.29,68.61 L266.60,69.01 L266.89,69.41 L267.19,69.81 L267.49,70.21 L267.78,70.61 L268.07,71.02 L268.36,71.43 L268.64,71.84 L268.91,72.26 L269.18,72.68 L269.45,73.10 L269.70,73.53 L269.96,73.96 L270.20,74.39 L270.44,74.83 L270.68,75.27 L270.91,75.71 L271.14,76.15 L271.37,76.60 L271.59,77.04 L271.82,77.49 L272.04,77.94 L272.26,78.39 L272.48,78.83 L272.69,79.29 L272.91,79.74 L273.12,80.19 L273.32,80.65 L273.52,81.10 L273.72,81.56 L273.92,82.02 L274.12,82.48 L274.31,82.94 L274.50,83.40 L274.69,83.87 L274.88,84.33 L275.07,84.79 L275.26,85.25 L275.45,85.72 L275.64,86.18 L275.84,86.64 L276.03,87.10 L276.23,87.56 L276.43,88.01 L276.64,88.47 L276.84,88.92 L277.05,89.38 L277.26,89.83 L277.46,90.28 L277.67,90.74 L277.86,91.20 L278.05,91.65 L278.24,92.12 L278.41,92.58 L278.58,93.05 L278.73,93.52 L278.89,94.00 L279.03,94.47 L279.17,94.95 L279.31,95.43 L279.44,95.91 L279.57,96.40 L279.70,96.88 L279.83,97.36 L279.96,97.84 L280.09,98.33 L280.22,98.81 L280.35,99.29 L280.48,99.78 L280.61,100.26 L280.74,100.74 L280.87,101.22 L281.00,101.71 L281.13,102.19 L281.26,102.67 L281.39,103.16 L281.52,103.64 L281.65,104.12 L281.78,104.60 L281.91,105.09 L282.04,105.57 L282.17,106.05 L282.30,106.54 L282.43,107.02 L282.56,107.50 L282.69,107.98 L282.82,108.47 L282.95,108.95 L283.08,109.43 L283.21,109.91 L283.34,110.40 L283.47,110.88 L283.60,111.36 L283.73,111.85 L283.86,112.33 L283.99,112.81 L284.11,113.30 L284.24,113.78 L284.36,114.27 L284.48,114.75 L284.60,115.24 L284.72,115.72 L284.83,116.21 L284.95,116.69 L285.06,117.18 L285.18,117.67 L285.29,118.15 L285.40,118.64 L285.52,119.13 L285.63,119.62 L285.74,120.10 L285.86,120.59 L285.97,121.08 L286.08,121.56 L286.19,122.05 L286.31,122.54 L286.42,123.03 L286.53,123.51 L286.65,124.00 L286.76,124.49 L286.87,124.97 L286.98,125.46 L287.10,125.95 L287.21,126.43 L287.33,126.92 L287.44,127.41 L287.55,127.89 L287.67,128.38 L287.78,128.87 L287.90,129.36 L288.01,129.84 L288.13,130.33 L288.24,130.82 L288.36,131.30 L288.47,131.79 L288.59,132.27 L288.70,132.76 L288.82,133.25 L288.93,133.73 L289.05,134.22 L289.17,134.71 L289.29,135.19 L289.41,135.68 L289.53,136.16 L289.65,136.65 L289.78,137.13 L289.91,137.61 L290.04,138.10 L290.17,138.58 L290.30,139.06 L290.44,139.54 L290.57,140.02 L290.71,140.50 L290.85,140.98 L290.98,141.46 L291.12,141.95 L291.26,142.43 L291.39,142.91 L291.53,143.39 L291.67,143.87 L291.80,144.35 L291.94,144.83 L292.07,145.31 L292.20,145.80 L292.33,146.28 L292.45,146.76 L292.57,147.25 L292.69,147.73 L292.81,148.22 L292.92,148.71 L293.03,149.19 L293.14,149.68 L293.25,150.17 L293.36,150.66 L293.46,151.15 L293.57,151.64 L293.67,152.12 L293.77,152.61 L293.88,153.10 L293.98,153.59 L294.09,154.08 L294.19,154.57 L294.30,155.06 L294.40,155.55 L294.51,156.04 L294.61,156.53 L294.72,157.01 L294.82,157.50 L294.93,157.99 L295.03,158.48 L295.14,158.97 L295.25,159.46 L295.36,159.94 L295.47,160.43 L295.58,160.92 L295.69,161.41 L295.80,161.89 L295.91,162.38 L296.03,162.87 L296.14,163.36 L296.25,163.84 L296.36,164.33 L296.48,164.82 L296.59,165.30 L296.70,165.79 L296.82,166.28 L296.93,166.77 L297.04,167.25 L297.16,167.74 L297.27,168.23 L297.39,168.71 L297.51,169.20 L297.63,169.68 L297.76,170.16 L297.89,170.64 L298.03,171.12 L298.17,171.60 L298.32,172.08 L298.47,172.55 L298.63,173.03 L298.79,173.50 L298.96,173.97 L299.13,174.44 L299.31,174.91 L299.49,175.37 L299.67,175.84 L299.85,176.30 L300.04,176.77 L300.22,177.23 L300.41,177.70 L300.60,178.16 L300.79,178.62 L300.98,179.08 L301.17,179.55 L301.36,180.01 L301.55,180.47 L301.75,180.93 L301.94,181.39 L302.14,181.85 L302.33,182.31 L302.53,182.77 L302.73,183.23 L302.93,183.69 L303.13,184.14 L303.34,184.60 L303.54,185.05 L303.76,185.51 L303.97,185.96 L304.19,186.40 L304.42,186.85 L304.65,187.29 L304.89,187.72 L305.14,188.16 L305.39,188.59 L305.65,189.01 L305.91,189.44 L306.18,189.86 L306.45,190.28 L306.73,190.69 L307.01,191.10 L307.30,191.51 L307.59,191.91 L307.89,192.31 L308.20,192.71 L308.51,193.09 L308.83,193.48 L309.15,193.86 L309.48,194.23 L309.81,194.60 L310.15,194.96 L310.50,195.31 L310.86,195.66 L311.22,195.99 L311.60,196.32 L311.98,196.64 L312.37,196.94 L312.76,197.25 L313.16,197.54 L313.57,197.83 L313.98,198.11 L314.39,198.40 L314.80,198.67 L315.22,198.95 L315.64,199.23 L316.06,199.50 L316.48,199.77 L316.90,200.04 L317.32,200.30 L317.75,200.57 L318.17,200.83 L318.60,201.09 L319.03,201.35 L319.45,201.61 L319.88,201.87 L320.31,202.13 L320.74,202.38 L321.17,202.64 L321.59,202.90 L322.02,203.16 L322.45,203.42 L322.88,203.67 L323.31,203.93 L323.74,204.19 L324.16,204.45 L324.59,204.71 L325.02,204.97 L325.45,205.23 L325.87,205.49 L326.30,205.75 L326.73,206.01 L327.15,206.27 L327.58,206.53 L328.01,206.79 L328.43,207.05 L328.86,207.31 L329.29,207.57 L329.71,207.84 L330.14,208.10 L330.56,208.36 L330.99,208.63 L331.41,208.89 L331.83,209.16 L332.26,209.42 L332.68,209.68 L333.11,209.95 L333.53,210.21 L333.96,210.48 L334.38,210.74 L334.81,211.00 L335.23,211.26 L335.66,211.52 L336.09,211.77 L336.52,212.02 L336.96,212.27 L337.39,212.51 L337.84,212.74 L338.28,212.96 L338.73,213.18 L339.18,213.39 L339.63,213.59 L340.09,213.79 L340.55,213.99 L341.01,214.18 L341.48,214.37 L341.94,214.55 L342.40,214.74 L342.87,214.92 L343.33,215.10 L343.80,215.29 L344.27,215.47 L344.73,215.65 L345.20,215.83 L345.66,216.01 L346.13,216.19 L346.60,216.36 L347.07,216.54 L347.54,216.71 L348.01,216.88 L348.47,217.06 L348.94,217.23 L349.41,217.40 L349.88,217.57 L350.35,217.74 L350.83,217.91 L351.30,218.08 L351.77,218.24 L352.24,218.40 L352.71,218.57 L353.19,218.72 L353.66,218.88 L354.14,219.03 L354.62,219.17 L355.09,219.32 L355.57,219.46 L356.06,219.59 L356.54,219.73 L357.02,219.86 L357.50,219.99 L357.98,220.12 L358.47,220.25 L358.95,220.37 L359.43,220.50 L359.92,220.63 L360.40,220.76 L360.88,220.89 L361.36,221.02 L361.85,221.16 L362.33,221.29 L362.81,221.43 L363.29,221.57 L363.77,221.70 L364.25,221.84 L364.73,221.98 L365.21,222.12 L365.69,222.26 L366.17,222.40 L366.65,222.54 L367.13,222.68 L367.61,222.81 L368.09,222.94 L368.58,223.06 L369.06,223.18 L369.55,223.29 L370.03,223.39 L370.52,223.49 L371.01,223.57 L371.50,223.65 L372.00,223.72 L372.49,223.79 L372.99,223.85 L373.48,223.91 L373.98,223.96 L374.47,224.02 L374.97,224.08 L375.46,224.15 L375.96,224.22 L376.45,224.29 L376.95,224.37 L377.44,224.46 L377.93,224.55 L378.42,224.64 L378.91,224.74 L379.40,224.84 L379.89,224.95 L380.37,225.05 L380.86,225.16 L381.35,225.26 L381.84,225.36 L382.33,225.46 L382.82,225.56 L383.31,225.65 L383.80,225.74 L384.29,225.81 L384.79,225.89 L385.28,225.95 L385.78,226.01 L386.27,226.06 L386.77,226.10 L387.27,226.15 L387.76,226.18 L388.26,226.22 L388.76,226.25 L389.26,226.28 L389.76,226.31 L390.26,226.33 L390.76,226.36 L391.26,226.38 L391.76,226.40 L392.26,226.42 L392.76,226.43 L393.25,226.45 L393.75,226.47 L394.25,226.48 L394.75,226.50 L395.25,226.52 L395.75,226.54 L396.25,226.57 L396.74,226.61 L397.23,226.65 L397.72,226.71 L398.21,226.78 L398.69,226.87 L399.17,226.97 L399.65,227.09 L400.12,227.23 L400.60,227.38 L401.06,227.53 L401.53,227.70 L402.00,227.87 L402.47,228.05 L402.93,228.22 L403.40,228.40 L403.87,228.57 L404.34,228.74 L404.81,228.91 L405.28,229.07 L405.75,229.23 L406.22,229.38 L406.70,229.53 L407.18,229.66 L407.65,229.78 L408.14,229.89 L408.62,229.99 L409.11,230.07 L409.60,230.13 L410.09,230.18 L410.58,230.22 L411.08,230.25 L411.57,230.27 L412.07,230.28 L412.57,230.29 L413.07,230.29 L413.57,230.30 L414.07,230.30 L414.57,230.30 L415.07,230.30 L415.57,230.30 L416.07,230.30 L416.57,230.30 L417.07,230.30 L417.57,230.30 L418.07,230.30 L418.57,230.30 L419.07,230.30 L419.57,230.30 L420.07,230.30 L420.57,230.30 L421.07,230.30 L421.57,230.30 L422.07,230.30 L422.57,230.30 L423.07,230.30 L423.57,230.30 L424.07,230.30 L424.57,230.30 L425.07,230.30 L425.57,230.31 L426.07,230.31 L426.57,230.31 L427.06,230.32 L427.56,230.34 L428.06,230.35 L428.56,230.38 L429.06,230.41 L429.55,230.44 L430.05,230.49 L430.55,230.54 L431.04,230.60 L431.54,230.66 L432.03,230.73 L432.52,230.81 L433.02,230.89 L433.51,230.98 L434.00,231.07 L434.49,231.17 L434.97,231.28 L435.46,231.39 L435.94,231.51 L436.42,231.64 L436.91,231.77 L437.39,231.90 L437.87,232.04 L438.35,232.18 L438.83,232.31 L439.31,232.44 L439.79,232.56 L440.27,232.68 L440.75,232.78 L441.24,232.87 L441.73,232.95 L442.22,233.02 L442.71,233.07 L443.20,233.11 L443.70,233.14 L444.20,233.16 L444.69,233.18 L445.19,233.19 L445.69,233.19 L446.19,233.20 L446.69,233.20 L447.19,233.20 L447.69,233.20 L448.19,233.20 L448.69,233.20 L449.19,233.20 L449.69,233.20 L450.19,233.20 L450.69,233.20 L451.19,233.20 L451.69,233.20 L452.19,233.20 L452.69,233.20 L453.19,233.20 L453.69,233.20 L454.19,233.20 L454.69,233.20 L455.19,233.20 L455.69,233.20 L456.19,233.20 L456.69,233.20 L457.18,233.20 L457.68,233.20 L458.17,233.20 L458.66,233.20 L459.15,233.20 L459.63,233.20 L460.11,233.20 L460.59,233.20 L461.06,233.20"/>
</g>
<g stroke="#111" stroke-width="2.6" fill="none">
<rect x="69.5" y="2.75" width="425.1" height="342.4"/>
</g>
<g stroke="#111" stroke-width="2.5">
<line x1="69.5" y1="345.15" x2="69.5" y2="351.6"/><line x1="102.2" y1="345.15" x2="102.2" y2="348.1"/><line x1="134.8" y1="345.15" x2="134.8" y2="351.6"/><line x1="167.5" y1="345.15" x2="167.5" y2="348.1"/><line x1="200.2" y1="345.15" x2="200.2" y2="351.6"/><line x1="232.8" y1="345.15" x2="232.8" y2="348.1"/><line x1="265.5" y1="345.15" x2="265.5" y2="351.6"/><line x1="298.2" y1="345.15" x2="298.2" y2="348.1"/><line x1="330.8" y1="345.15" x2="330.8" y2="351.6"/><line x1="363.5" y1="345.15" x2="363.5" y2="348.1"/><line x1="396.1" y1="345.15" x2="396.1" y2="351.6"/><line x1="428.8" y1="345.15" x2="428.8" y2="348.1"/><line x1="461.5" y1="345.15" x2="461.5" y2="351.6"/><line x1="494.1" y1="345.15" x2="494.1" y2="348.1"/><line x1="69.5" y1="345.1" x2="62.8" y2="345.1"/><line x1="69.5" y1="314.0" x2="65.9" y2="314.0"/><line x1="69.5" y1="282.9" x2="62.8" y2="282.9"/><line x1="69.5" y1="251.7" x2="65.9" y2="251.7"/><line x1="69.5" y1="220.6" x2="62.8" y2="220.6"/><line x1="69.5" y1="189.5" x2="65.9" y2="189.5"/><line x1="69.5" y1="158.3" x2="62.8" y2="158.3"/><line x1="69.5" y1="127.2" x2="65.9" y2="127.2"/><line x1="69.5" y1="96.1" x2="62.8" y2="96.1"/><line x1="69.5" y1="64.9" x2="65.9" y2="64.9"/><line x1="69.5" y1="33.8" x2="62.8" y2="33.8"/><line x1="69.5" y1="2.7" x2="65.9" y2="2.7"/>
</g>
<g font-size="19px">
<text x="69.5" y="371.6" text-anchor="middle">0</text><text x="134.8" y="371.6" text-anchor="middle">100</text><text x="200.2" y="371.6" text-anchor="middle">200</text><text x="265.5" y="371.6" text-anchor="middle">300</text><text x="330.8" y="371.6" text-anchor="middle">400</text><text x="396.1" y="371.6" text-anchor="middle">500</text><text x="461.5" y="371.6" text-anchor="middle">600</text>
<text x="57.0" y="351.0" text-anchor="end">0</text><text x="57.0" y="288.8" text-anchor="end">20</text><text x="57.0" y="226.5" text-anchor="end">40</text><text x="57.0" y="164.2" text-anchor="end">60</text><text x="57.0" y="102.0" text-anchor="end">80</text><text x="57.0" y="39.7" text-anchor="end">100</text>
</g>
<text font-size="18.55px" x="206.2" y="403.8">Temperature<tspan dx="1.3"> (°C)</tspan></text>
<text font-size="19.5px" transform="translate(16.8,173.4) rotate(-90)" text-anchor="middle">Weight loss (%)</text>
<g stroke-width="2.2" stroke-linecap="round">
<line x1="378.6" y1="15.9" x2="418.8" y2="15.9" stroke="#F27A18"/>
<line x1="378.6" y1="38.6" x2="418.8" y2="38.6" stroke="#0E760E"/>
<line x1="378.6" y1="61.2" x2="418.8" y2="61.2" stroke="#7A10F8"/>
</g>
<g font-size="17.7px">
<text x="424.3" y="21.8">CS</text>
<text x="424.3" y="44.6">PVA</text>
<text x="424.3" y="67.7">CS/PVA</text>
</g>
</svg>
</body></html>
